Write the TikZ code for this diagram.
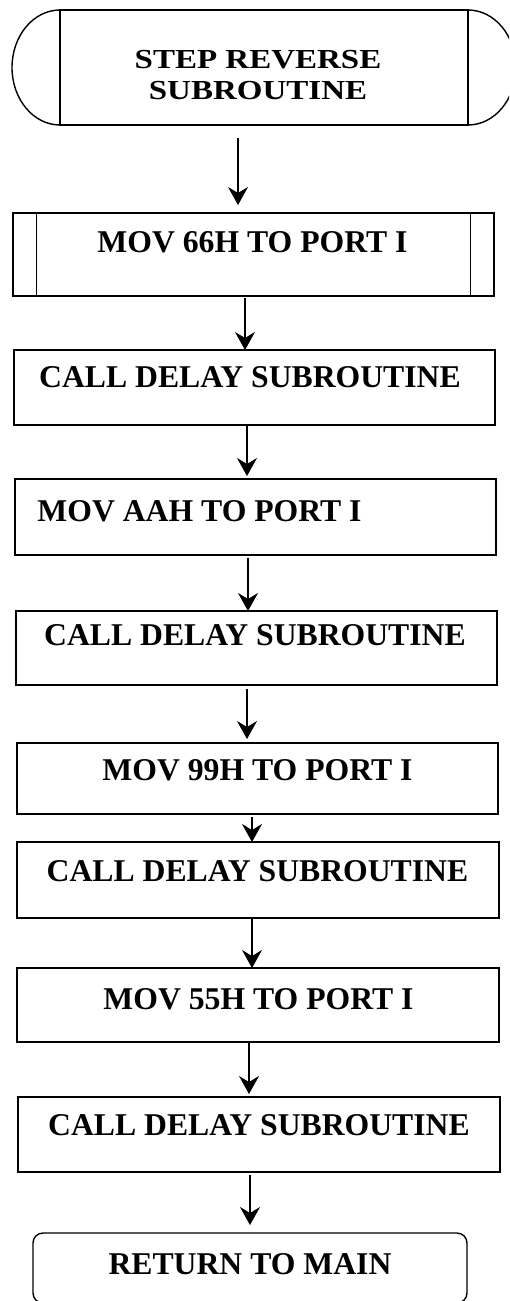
\documentclass[tikz,border=0pt]{standalone}
\usepackage{fontspec}
\setmainfont{Liberation Serif}
\newfontfamily\topfont[FakeStretch=1.2]{Liberation Serif}
\usetikzlibrary{arrows.meta}
\begin{document}
\begin{tikzpicture}[x=1pt,y=-1pt,
  box/.style={draw, line width=1.4pt, inner sep=0pt, outer sep=0pt},
  rbox/.style={box, rounded corners=10pt},
  lbl/.style={inner sep=0pt, anchor=base, font=\fontsize{31.7}{34}\selectfont\bfseries},
  toplbl/.style={inner sep=0pt, anchor=center, align=center, font=\topfont\fontsize{27.5}{31}\selectfont\bfseries},
  arr/.style={line width=1.1pt, -{Stealth[length=18pt,width=20pt,inset=6pt]}}]
\useasboundingbox (0,0) rectangle (509,1301);
\clip (0,0) rectangle (509,1301);
% start terminal
\node[box, minimum width=408pt, minimum height=115pt] (b1) at (264,67.5) {};
\draw[line width=1.4pt] (b1.north west) arc[start angle=90, end angle=270, x radius=48pt, y radius=57.5pt];
\draw[line width=1.4pt] (b1.north east) arc[start angle=90, end angle=-90, x radius=48pt, y radius=57.5pt];
\node[toplbl] (t1) at (258,75) {STEP REVERSE\\SUBROUTINE};
% predefined process box
\node[box, minimum width=481pt, minimum height=83pt] (b2) at (253.5,254.5) {};
\draw[line width=1pt] (b2.north west) ++(23,0) coordinate (l2a) -- (l2a |- b2.south);
\draw[line width=1pt] (b2.north east) ++(-24,0) coordinate (r2a) -- (r2a |- b2.south);
\node[lbl] (t2) at (252.5,252.5) {MOV 66H TO PORT I};
% process boxes
\node[box, minimum width=481pt, minimum height=75pt] (b3) at (254.5,387.5) {};
\node[lbl] (t3) at (250,387.5) {CALL DELAY SUBROUTINE};
\node[box, minimum width=481pt, minimum height=76pt] (b4) at (255.5,517) {};
\node[lbl] (t4) at (199.5,521.5) {MOV AAH TO PORT I};
\node[box, minimum width=481pt, minimum height=74pt] (b5) at (256.5,648) {};
\node[lbl] (t5) at (255,645.5) {CALL DELAY SUBROUTINE};
\node[box, minimum width=481pt, minimum height=71pt] (b6) at (257.5,778.5) {};
\node[lbl] (t6) at (257.5,780.5) {MOV 99H TO PORT I};
\node[box, minimum width=482pt, minimum height=76pt] (b7) at (258,880) {};
\node[lbl] (t7) at (257.5,881.5) {CALL DELAY SUBROUTINE};
\node[box, minimum width=482pt, minimum height=74pt] (b8) at (258,1005) {};
\node[lbl] (t8) at (258.5,1009.5) {MOV 55H TO PORT I};
\node[box, minimum width=482pt, minimum height=75pt] (b9) at (259,1134.5) {};
\node[lbl] (t9) at (259,1135.5) {CALL DELAY SUBROUTINE};
% end terminal
\node[rbox, minimum width=434pt, minimum height=70pt] (b10) at (250,1268) {};
\node[lbl] (t10) at (250,1274.5) {RETURN TO MAIN};
% connectors
\draw[arr, shorten <=13pt, shorten >=8pt] (b1.south -| 238,0) -- (b2.north -| 238,0);
\draw[arr, shorten <=2pt] (b2.south -| 245,0) -- (b3.north -| 245,0);
\draw[arr, shorten >=3pt] (b3.south -| 247,0) -- (b4.north -| 247,0);
\draw[arr, shorten <=3pt] (b4.south -| 248,0) -- (b5.north -| 248,0);
\draw[arr, shorten <=4pt, shorten >=4pt] (b5.south -| 247,0) -- (b6.north -| 247,0);
\draw[arr, shorten <=3pt] (b6.south -| 252,0) -- (b7.north -| 252,0);
\draw[arr] (b7.south -| 252,0) -- (b8.north -| 252,0);
\draw[arr, shorten >=3pt] (b8.south -| 249,0) -- (b9.north -| 249,0);
\draw[arr, shorten <=3pt, shorten >=8pt] (b9.south -| 250,0) -- (b10.north -| 250,0);
\end{tikzpicture}
\end{document}
